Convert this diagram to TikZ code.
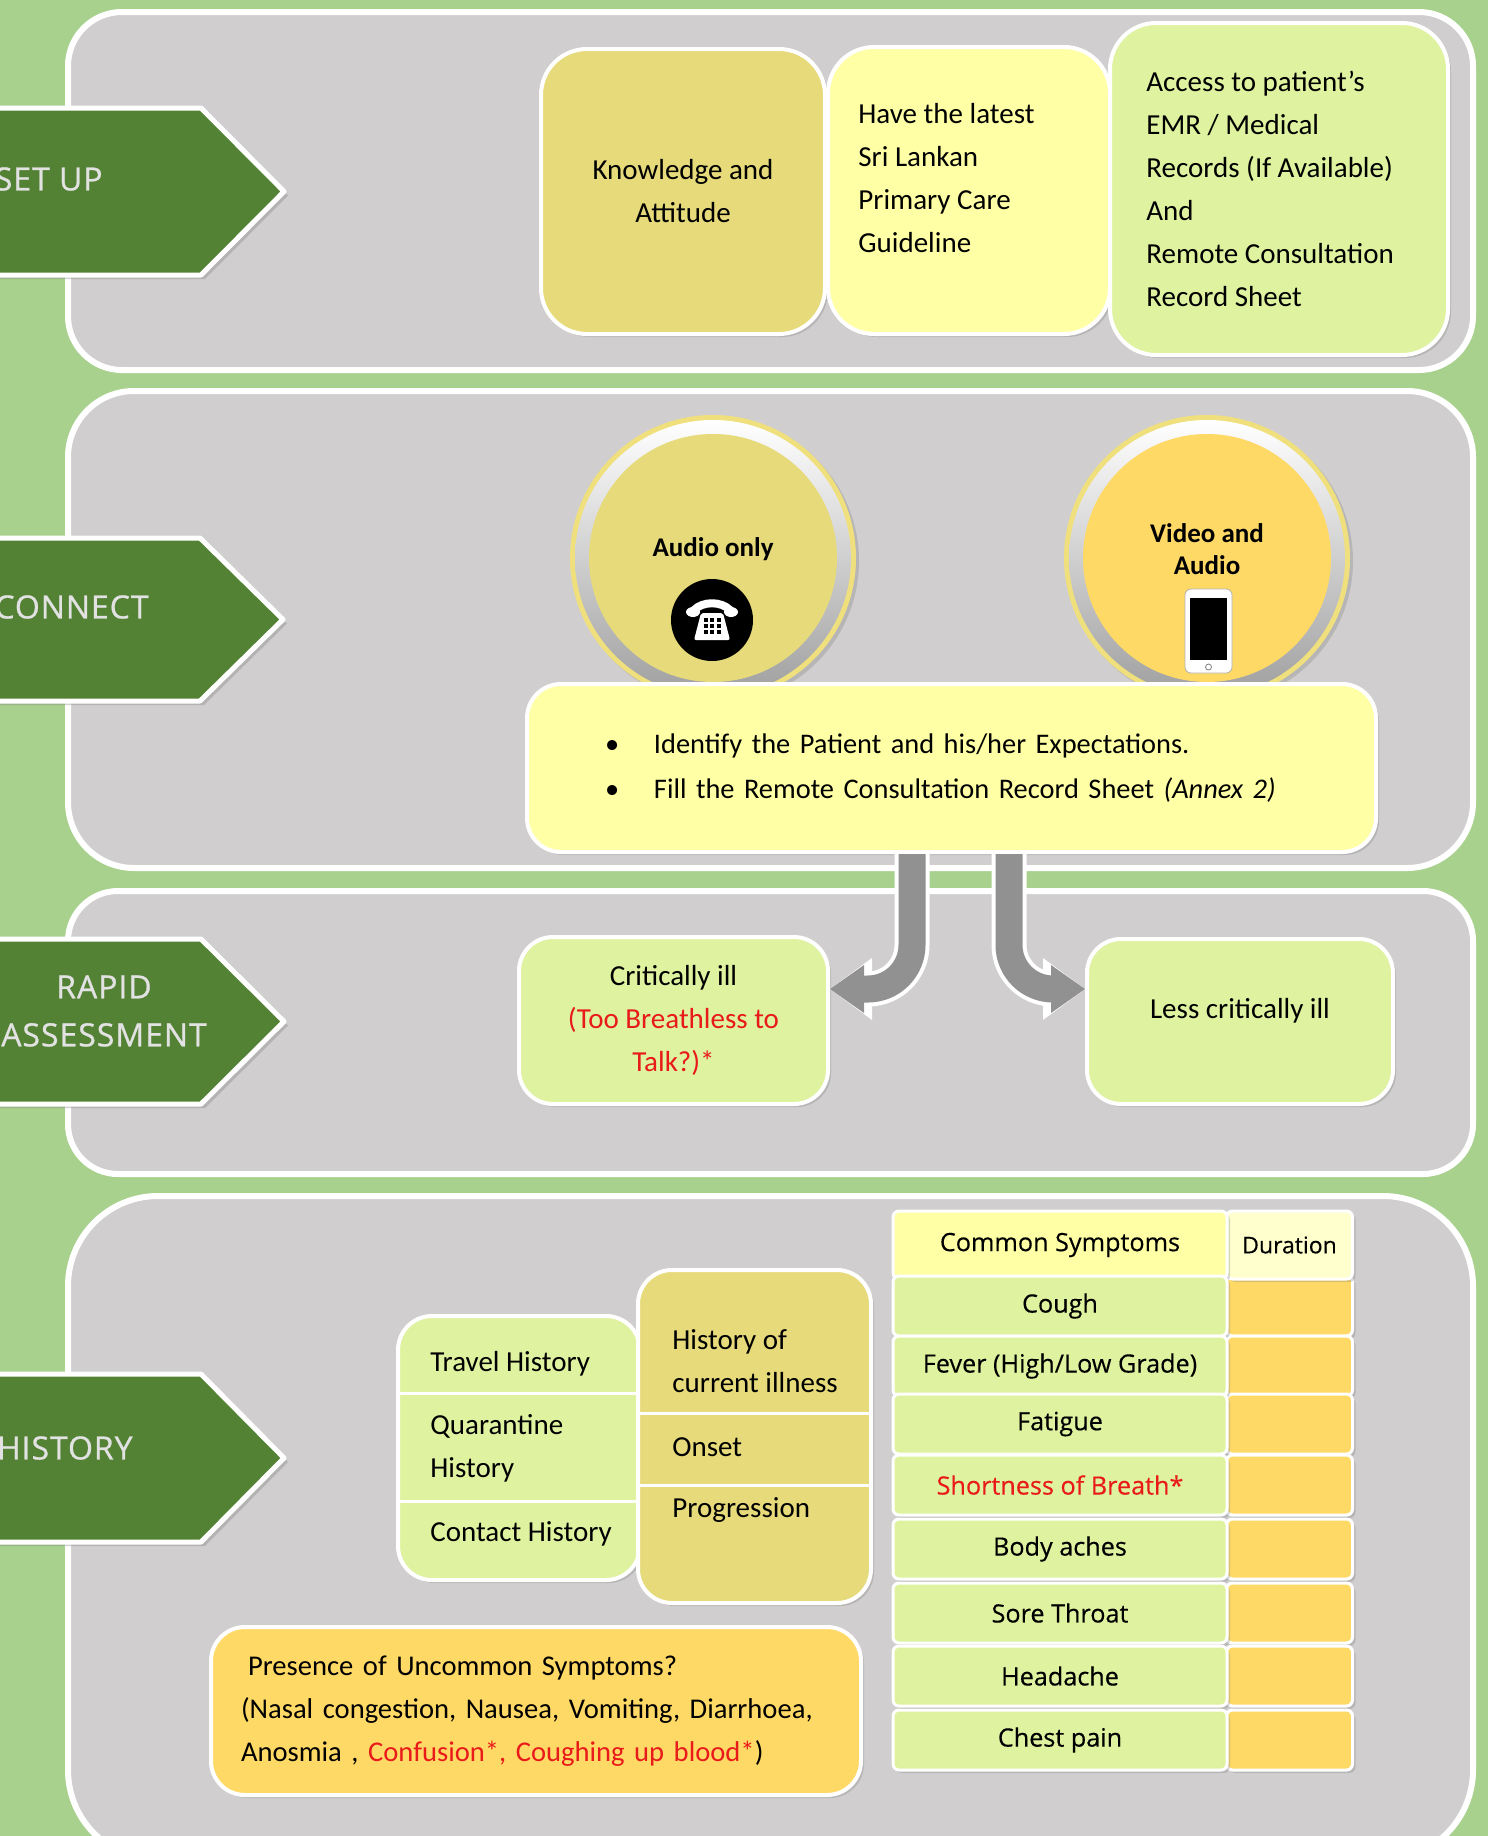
\documentclass[tikz,border=0pt]{standalone}
\usepackage{fontspec}
\setmainfont{Carlito}
\newfontfamily\osans[FakeBold=0.3]{Open Sans}
\newfontfamily\labfont[FakeBold=0.8,LetterSpace=3]{Open Sans}
\usepackage{xcolor}
\definecolor{mybg}{RGB}{169,209,142}
\definecolor{mypanel}{RGB}{208,206,206}
\definecolor{mydkgreen}{RGB}{84,130,53}
\definecolor{mylabel}{RGB}{226,226,226}
\definecolor{mykhaki}{RGB}{230,218,122}
\definecolor{myyellow}{RGB}{255,255,166}
\definecolor{mylime}{RGB}{222,242,160}
\definecolor{myorange}{RGB}{255,217,102}
\definecolor{myred}{RGB}{232,26,26}
\definecolor{myring}{RGB}{240,224,125}
\definecolor{mygrey}{RGB}{145,145,145}
\usepackage{tikz}
\usetikzlibrary{arrows.meta,shadows}

\begin{document}
\begin{tikzpicture}[x=0.5pt,y=-0.5pt,line join=round]
	\tikzstyle{ban}=[fill=mypanel,draw=white,line width=3pt];
	\tikzstyle{jiantou}=[fill=mydkgreen,draw=white,line width=2.5pt,drop shadow={opacity=.35,shadow xshift=2pt,shadow yshift=-2pt}];
	\tikzstyle{biaoqian}=[font=\labfont\fontsize{16}{24}\selectfont,text=mylabel,inner sep=0pt,align=center];
	\tikzstyle{kuang}=[draw=white,line width=2pt,inner sep=0pt,rounded corners=17pt,drop shadow={opacity=.3,shadow xshift=1.5pt,shadow yshift=-1.5pt}];
	\tikzstyle{zi}=[font=\fontsize{14.5}{21.5}\selectfont,inner sep=0pt];
	\tikzstyle{cu}=[font=\bfseries\fontsize{13.5}{16}\selectfont,inner sep=0pt,align=center];
	\tikzstyle{quan}=[circle,fill=myring,minimum size=143pt,inner sep=0pt,drop shadow={opacity=.3,shadow xshift=1.5pt,shadow yshift=-1.5pt}];
	\tikzstyle{biao}=[draw=white,line width=1.5pt,rounded corners=3pt,inner sep=0pt,minimum height=30pt,font=\osans\fontsize{12.6}{15}\selectfont,drop shadow={opacity=.3,shadow xshift=1.5pt,shadow yshift=-1.5pt}];
	\tikzstyle{jian}=[draw=mygrey,line width=13.5pt,rounded corners=22pt,-{Triangle[width=24pt,length=17pt,line width=0pt]},preaction={draw=white,line width=17.5pt,-{Triangle[width=31pt,length=21pt,line width=0pt]}}];
	%% Page
	\clip (0,0) rectangle (1488,1836);
	\fill[mybg] (0,0) rectangle (1488,1836);
	%% Panels
	\draw[ban,rounded corners=27pt] (68,12) rectangle (1473,370);
	\draw[ban,rounded corners=33pt] (68,391) rectangle (1473,868);
	\draw[ban,rounded corners=25pt] (68,891) rectangle (1473,1174);
	\draw[ban,rounded corners=45pt] (68,1196) rectangle (1473,1860);
	%% Step Arrows
	\draw[jiantou] (-20,108) -- (201,108) -- (284,191.5) -- (201,275) -- (-20,275) -- cycle;
	\draw[jiantou] (-20,538) -- (200,538) -- (283,619.5) -- (200,701) -- (-20,701) -- cycle;
	\draw[jiantou] (-20,939) -- (201,939) -- (284,1021.5) -- (201,1104) -- (-20,1104) -- cycle;
	\draw[jiantou] (-20,1374) -- (201,1374) -- (284,1458) -- (201,1542) -- (-20,1542) -- cycle;
	\node[biaoqian,anchor=east] (setup) at (103,179) {SET UP};
	\node[biaoqian,anchor=east] (connect) at (149,607) {CONNECT};
	\node[biaoqian] (rapid) at (104,1011) {RAPID\\ASSESSMENT};
	\node[biaoqian,anchor=east] (history) at (133,1448) {HISTORY};
	%% Set Up
	\node[kuang,fill=mykhaki,rounded corners=23pt,minimum width=142pt,minimum height=142.5pt,zi,align=center] (know) at (683,191.5) {Knowledge and\\Attitude};
	\node[kuang,fill=myyellow,rounded corners=23pt,minimum width=141pt,minimum height=143.5pt] (guide) at (969,190.5) {};
	\node[zi,align=left,anchor=west] (guidetxt) at ([xshift=16pt,yshift=6pt]guide.west) {Have the latest\\Sri Lankan\\Primary Care\\Guideline};
	\node[kuang,fill=mylime,rounded corners=23pt,minimum width=169pt,minimum height=166pt] (emr) at (1279,189) {};
	\node[zi,align=left,anchor=west] (emrtxt) at ([xshift=19pt]emr.west) {Access to patient’s\\EMR / Medical\\Records (If Available)\\And\\Remote Consultation\\Record Sheet};
	%% Connect
	\node[quan] (audio) at (713,558) {};
	\shade[top color=white,bottom color=gray!75] (audio.center) circle (69pt);
	\fill[mykhaki] (audio.center) circle (62pt);
	\node[cu] (audiotxt) at ([yshift=4.5pt]audio.center) {Audio only};
	\begin{scope}[shift={(712,620)}]
		\fill[black] (0,0) circle (20.5pt);
		\draw[white,line width=4pt,line cap=round] (-18,-10) .. controls (-9,-19) and (9,-19) .. (18,-10);
		\fill[white] (-19,-8) ellipse [x radius=3.5pt,y radius=2.5pt];
		\fill[white] (19,-8) ellipse [x radius=3.5pt,y radius=2.5pt];
		\fill[white,rounded corners=1pt] (-11,-7) -- (11,-7) -- (18,20) -- (-18,20) -- cycle;
		\draw[black,line width=2pt,dash pattern=on 2pt off 1.25pt] (-8.5,0) -- (8.5,0);
		\draw[black,line width=2pt,dash pattern=on 2pt off 1.25pt] (-8.5,6) -- (8.5,6);
		\draw[black,line width=2pt,dash pattern=on 2pt off 1.25pt] (-8.5,12) -- (8.5,12);
	\end{scope}
	\node[quan] (video) at (1207,558) {};
	\shade[top color=white,bottom color=gray!75] (video.center) circle (69pt);
	\fill[myorange] (video.center) circle (62pt);
	\node[cu] (videotxt) at ([yshift=4.5pt]video.center) {Video and\\Audio};
	\node[draw=gray!60,fill=white,rounded corners=3pt,minimum width=23.5pt,minimum height=42pt,inner sep=0pt] (mobile) at (1208.5,631) {};
	\fill[black] (1190,598) rectangle (1227,660);
	\draw[gray] (1208.5,667) circle (1.5pt);
	\node[kuang,fill=myyellow,minimum width=424.5pt,minimum height=84pt,zi,font=\fontsize{14.2}{22.5}\selectfont,text width=346.5pt,inner xsep=39pt,align=left] (ident) at (951.5,768) {\makebox[24.5pt][l]{\textbullet}Identify the Patient and his/her Expectations.\\\makebox[24.5pt][l]{\textbullet}Fill the Remote Consultation Record Sheet \textit{(Annex 2)}};
	%% Rapid Assessment
	\node[kuang,fill=mylime,minimum width=154.5pt,minimum height=83.5pt,zi,align=center] (crit) at (673.5,1020.5) {Critically ill\\\textcolor{myred}{(Too Breathless to}\\\textcolor{myred}{Talk?)*}};
	\node[kuang,fill=mylime,minimum width=153pt,minimum height=82.5pt] (less) at (1240,1021.5) {};
	\node[zi] (lesstxt) at ([yshift=5.5pt]less.center) {Less critically ill};
	\coordinate (critin) at ([yshift=15.75pt]crit.east);
	\coordinate (lessin) at ([yshift=16.25pt]less.west);
	\draw[jian] ([xshift=-19.75pt]ident.south) |- (critin);
	\draw[jian] ([xshift=28.75pt]ident.south) |- (lessin);
	%% History
	\node[kuang,fill=mylime,minimum width=121pt,minimum height=132pt] (expo) at (519,1448) {};
	\draw[white,line width=1.5pt] (398,1393) -- (640,1393);
	\draw[white,line width=1.5pt] (398,1501) -- (640,1501);
	\node[kuang,fill=mykhaki,minimum width=116.5pt,minimum height=166.5pt] (hpi) at (754.5,1436.5) {};
	\draw[white,line width=1.5pt] (638,1413) -- (871,1413);
	\draw[white,line width=1.5pt] (638,1485) -- (871,1485);
	\node[zi,anchor=west] (travel) at (430,1364) {Travel History};
	\node[zi,anchor=west,align=left] (quar) at (430,1448) {Quarantine\\History};
	\node[zi,anchor=west] (contact) at (430,1534) {Contact History};
	\node[zi,anchor=west,align=left] (hoci) at (672,1361) {History of\\current illness};
	\node[zi,anchor=west] (onset) at (672,1447) {Onset};
	\node[zi,anchor=west] (prog) at (672,1510) {Progression};
	\node[kuang,fill=myorange,minimum width=325pt,minimum height=84pt,zi,font=\fontsize{14.3}{21.5}\selectfont,text width=295pt,inner xsep=15pt,align=left] (uncommon) at (536,1711) {\hspace*{3.5pt}Presence of Uncommon Symptoms?\\(Nasal congestion, Nausea, Vomiting, Diarrhoea,\\Anosmia , \textcolor{myred}{Confusion*, Coughing up blood*})};
	%% Symptom Table
	\node[biao,fill=myorange,minimum width=63pt] (d1) at (1289.5,1306) {};
	\node[biao,fill=myorange,minimum width=63pt] (d2) at (1289.5,1366) {};
	\node[biao,fill=myorange,minimum width=63pt] (d3) at (1289.5,1424) {};
	\node[biao,fill=myorange,minimum width=63pt] (d4) at (1289.5,1485) {};
	\node[biao,fill=myorange,minimum width=63pt] (d5) at (1289.5,1549) {};
	\node[biao,fill=myorange,minimum width=63pt] (d6) at (1289.5,1613) {};
	\node[biao,fill=myorange,minimum width=63pt] (d7) at (1289.5,1676) {};
	\node[biao,fill=myorange,minimum width=63pt] (d8) at (1289.5,1740) {};
	\node[biao,fill=myyellow!55!white,minimum width=63pt,minimum height=34pt,font=\osans\fontsize{11.5}{14}\selectfont] (dur) at (1289.5,1245) {Duration};
	\node[biao,fill=myyellow,minimum width=167pt,minimum height=34pt] (common) at (1060,1245) {Common Symptoms};
	\node[biao,fill=mylime,minimum width=167pt] (cough) at (1060,1306) {Cough};
	\node[biao,fill=mylime,minimum width=167pt] (fever) at (1060,1366) {Fever (High/Low Grade)};
	\node[biao,fill=mylime,minimum width=167pt] (fatigue) at (1060,1424) {Fatigue};
	\node[biao,fill=mylime,minimum width=167pt,text=myred] (sob) at (1060,1485) {Shortness of Breath*};
	\node[biao,fill=mylime,minimum width=167pt] (aches) at (1060,1549) {Body aches};
	\node[biao,fill=mylime,minimum width=167pt] (throat) at (1060,1613) {Sore Throat};
	\node[biao,fill=mylime,minimum width=167pt] (headache) at (1060,1676) {Headache};
	\node[biao,fill=mylime,minimum width=167pt] (chest) at (1060,1740) {Chest pain};
\end{tikzpicture}
\end{document}
